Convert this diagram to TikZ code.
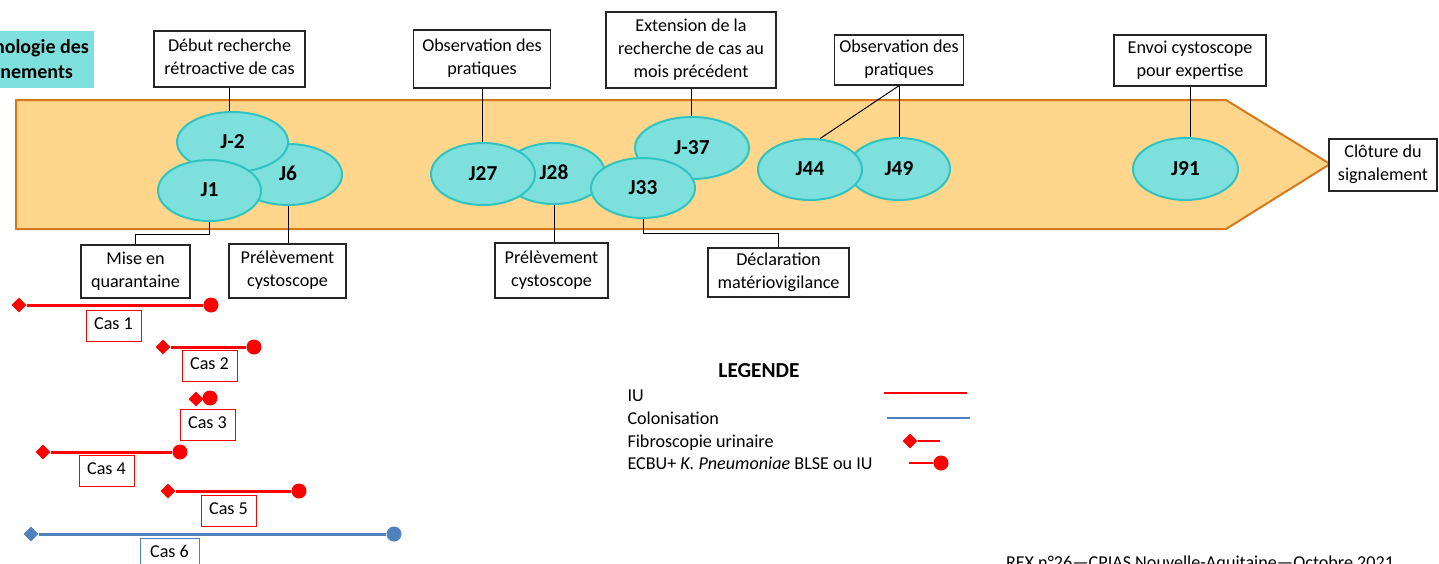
\documentclass[tikz,border=0pt]{standalone}
\usepackage{fontspec}
\setmainfont{Carlito}
\usetikzlibrary{shapes.geometric}

\definecolor{bandfill}{RGB}{255,214,139}
\definecolor{banddraw}{RGB}{214,120,28}
\definecolor{jourfill}{RGB}{126,224,221}
\definecolor{jourdraw}{RGB}{48,196,193}
\definecolor{iured}{RGB}{255,0,0}
\definecolor{coloblue}{RGB}{79,129,189}
\definecolor{boxdraw}{RGB}{38,38,38}

\tikzset{every picture/.style={line width=0.75pt}}
\tikzset{
  infobox/.style={draw=boxdraw, fill=white, line width=1pt, inner sep=1pt, align=center, text depth=0.3em, font=\fontsize{13.6}{17.25}\selectfont},
  jour/.style={ellipse, draw=jourdraw, fill=jourfill, line width=1.5pt, inner sep=0pt, text height=0.92em, text depth=0pt, font=\fontsize{16}{19}\selectfont\bfseries},
  casbox/.style={draw=iured, fill=white, line width=0.75pt, minimum width=41.25pt, minimum height=23.25pt, inner sep=0pt, text depth=0.3em, font=\fontsize{13.6}{16}\selectfont},
  fibro/.style={diamond, fill=#1, inner sep=0pt, minimum size=11.5pt},
  fibro/.default=iured,
  ecbu/.style={circle, fill=#1, inner sep=0pt, minimum size=11.25pt},
  ecbu/.default=iured,
  link/.style={draw=black, line width=0.75pt},
  caseline/.style={draw=#1, line width=2.25pt},
  caseline/.default=iured,
  legtext/.style={anchor=base west, inner sep=0pt, font=\fontsize{13.6}{16}\selectfont},
}

\begin{document}
\begin{tikzpicture}[x=0.75pt,y=0.75pt,yscale=-1,xscale=1]
\useasboundingbox (0,0) rectangle (1439,564);
\clip (0,0) rectangle (1439,564);

% Text Node (titre, coupe a gauche)
\node[fill=jourfill, minimum width=108pt, minimum height=42.75pt, inner sep=0pt, align=center, font=\fontsize{15}{18.75}\selectfont\bfseries] (titre) at (22,59.5) {Chronologie des\\événements};

%Shape: Bandeau fleche
\draw[draw=banddraw, fill=bandfill, line width=1.5pt, line join=miter] (16,100) -- (1226,100) -- (1330,164) -- (1226,229) -- (16,229) -- cycle;

%Shape: Ellipse (jours)
\node[jour, minimum width=81pt, minimum height=45.75pt] (j6) at (288,174.5) {J6};
\node[jour, minimum width=83.25pt, minimum height=45pt] (jm2) at (232.5,142) {J-2};
\node[jour, minimum width=77.25pt, minimum height=45.75pt] (j1) at (209.5,190.5) {J1};
\node[jour, minimum width=76.5pt, minimum height=45.75pt] (j28) at (554,173.5) {J28};
\node[jour, minimum width=78pt, minimum height=46.5pt] (j27) at (483,174) {J27};
\node[jour, minimum width=85.5pt, minimum height=46.5pt] (jm37) at (692,148) {J-37};
\node[jour, minimum width=78pt, minimum height=45pt] (j33) at (643,188) {J33};
\node[jour, minimum width=76.5pt, minimum height=46.5pt] (j49) at (899,169) {J49};
\node[jour, minimum width=78pt, minimum height=45.75pt] (j44) at (810,169.5) {J44};
\node[jour, minimum width=78.75pt, minimum height=46.5pt] (j91) at (1185.5,169) {J91};

% Text Node (evenements)
\node[infobox, minimum width=113.25pt, minimum height=42pt] (debut) at (229.5,59) {Début recherche\\rétroactive de cas};
\node[infobox, minimum width=102.75pt, minimum height=43.5pt] (obsA) at (482,59) {Observation des\\pratiques};
\node[infobox, minimum width=127.5pt, minimum height=57pt] (extension) at (691,50) {Extension de la\\recherche de cas au\\mois précédent};
\node[infobox, minimum width=96.75pt, minimum height=37.5pt] (obsB) at (899,60) {Observation des\\pratiques};
\node[infobox, minimum width=114pt, minimum height=38.25pt] (envoi) at (1190,60.5) {Envoi cystoscope\\pour expertise};
\node[infobox, minimum width=81pt, minimum height=39pt] (cloture) at (1383,165) {Clôture du\\signalement};
\node[infobox, minimum width=81.75pt, minimum height=39.75pt] (quarantaine) at (135.5,271.5) {Mise en\\quarantaine};
\node[infobox, minimum width=87.75pt, minimum height=40.5pt] (prelevA) at (287.5,271) {Prélèvement\\cystoscope};
\node[infobox, minimum width=84.75pt, minimum height=41.25pt] (prelevB) at (551.5,270.5) {Prélèvement\\cystoscope};
\node[infobox, minimum width=105.75pt, minimum height=36.75pt] (declaration) at (778.5,272.5) {Déclaration\\matériovigilance};

%Straight Lines (liens)
\draw[link] (debut.south) -- (debut.south |- jm2.north);
\draw[link] (obsA.south) -- (obsA.south |- j27.north);
\draw[link] (extension.south) -- (extension.south |- jm37.north);
\draw[link] (obsB.south) -- (j44.72);
\draw[link] (obsB.south) -- (j49.north);
\draw[link] (envoi.south) -- (envoi.south |- j91.north);
\draw[link] (j1.south) -- ++(0,12) -| (quarantaine.north);
\draw[link] (j6.south) -- (j6.south |- prelevA.north);
\draw[link] (j28.south) -- (j28.south |- prelevB.north);
\draw[link] (j33.south) -- ++(0,14) -| (declaration.north);

%Shape: Cas
\node[fibro] (c1a) at (19,305) {};
\node[ecbu] (c1b) at (211,305) {};
\draw[caseline] (c1a) -- (c1b);
\node[casbox] (cas1) at (113.5,326) {Cas 1};

\node[fibro] (c2a) at (163,347) {};
\node[ecbu] (c2b) at (254,347) {};
\draw[caseline] (c2a) -- (c2b);
\node[casbox] (cas2) at (209.5,365.5) {Cas 2};

\node[fibro] (c3a) at (196,399) {};
\node[ecbu] (c3b) at (210,398) {};
\node[casbox] (cas3) at (207.5,424.5) {Cas 3};

\node[fibro] (c4a) at (43,452) {};
\node[ecbu] (c4b) at (180,452) {};
\draw[caseline] (c4a) -- (c4b);
\node[casbox] (cas4) at (106.5,470.5) {Cas 4};

\node[fibro] (c5a) at (168,491) {};
\node[ecbu] (c5b) at (299,491) {};
\draw[caseline] (c5a) -- (c5b);
\node[casbox] (cas5) at (228.5,510.5) {Cas 5};

\node[fibro=coloblue] (c6a) at (31,534) {};
\node[ecbu=coloblue] (c6b) at (394,534) {};
\draw[caseline=coloblue] (c6a) -- (c6b);
\node[casbox, draw=coloblue, minimum width=44.25pt] (cas6) at (169.5,553.5) {Cas 6};

% Text Node (legende)
\node[font=\fontsize{16}{19}\selectfont\bfseries, inner sep=0pt] (legende) at (759,371) {LEGENDE};
\node[legtext] (legIU) at (627,401) {IU};
\node[legtext] (legColo) at (627,424) {Colonisation};
\node[legtext] (legFibro) at (627,447) {Fibroscopie urinaire};
\node[legtext] (legECBU) at (627,469) {ECBU+ \textit{K. Pneumoniae} BLSE ou IU};

\coordinate (iuA) at (884,393);
\coordinate (iuB) at (967,393);
\draw[draw=iured, line width=2pt] (iuA) -- (iuB);
\coordinate (coloA) at (887,418);
\coordinate (coloB) at (970,418);
\draw[draw=coloblue, line width=2pt] (coloA) -- (coloB);
\node[fibro] (fibroA) at (910,441) {};
\coordinate (fibroB) at (940,441);
\draw[draw=iured, line width=2pt] (fibroA) -- (fibroB);
\coordinate (ecbuA) at (909,463);
\node[ecbu] (ecbuB) at (941,463) {};
\draw[draw=iured, line width=2pt] (ecbuA) -- (ecbuB);

% Text Node (pied)
\node[anchor=base, inner sep=0pt, font=\fontsize{13.6}{16}\selectfont] (rex) at (1200,568.4) {REX n°26—CPIAS Nouvelle-Aquitaine—Octobre 2021};

\end{tikzpicture}
\end{document}
